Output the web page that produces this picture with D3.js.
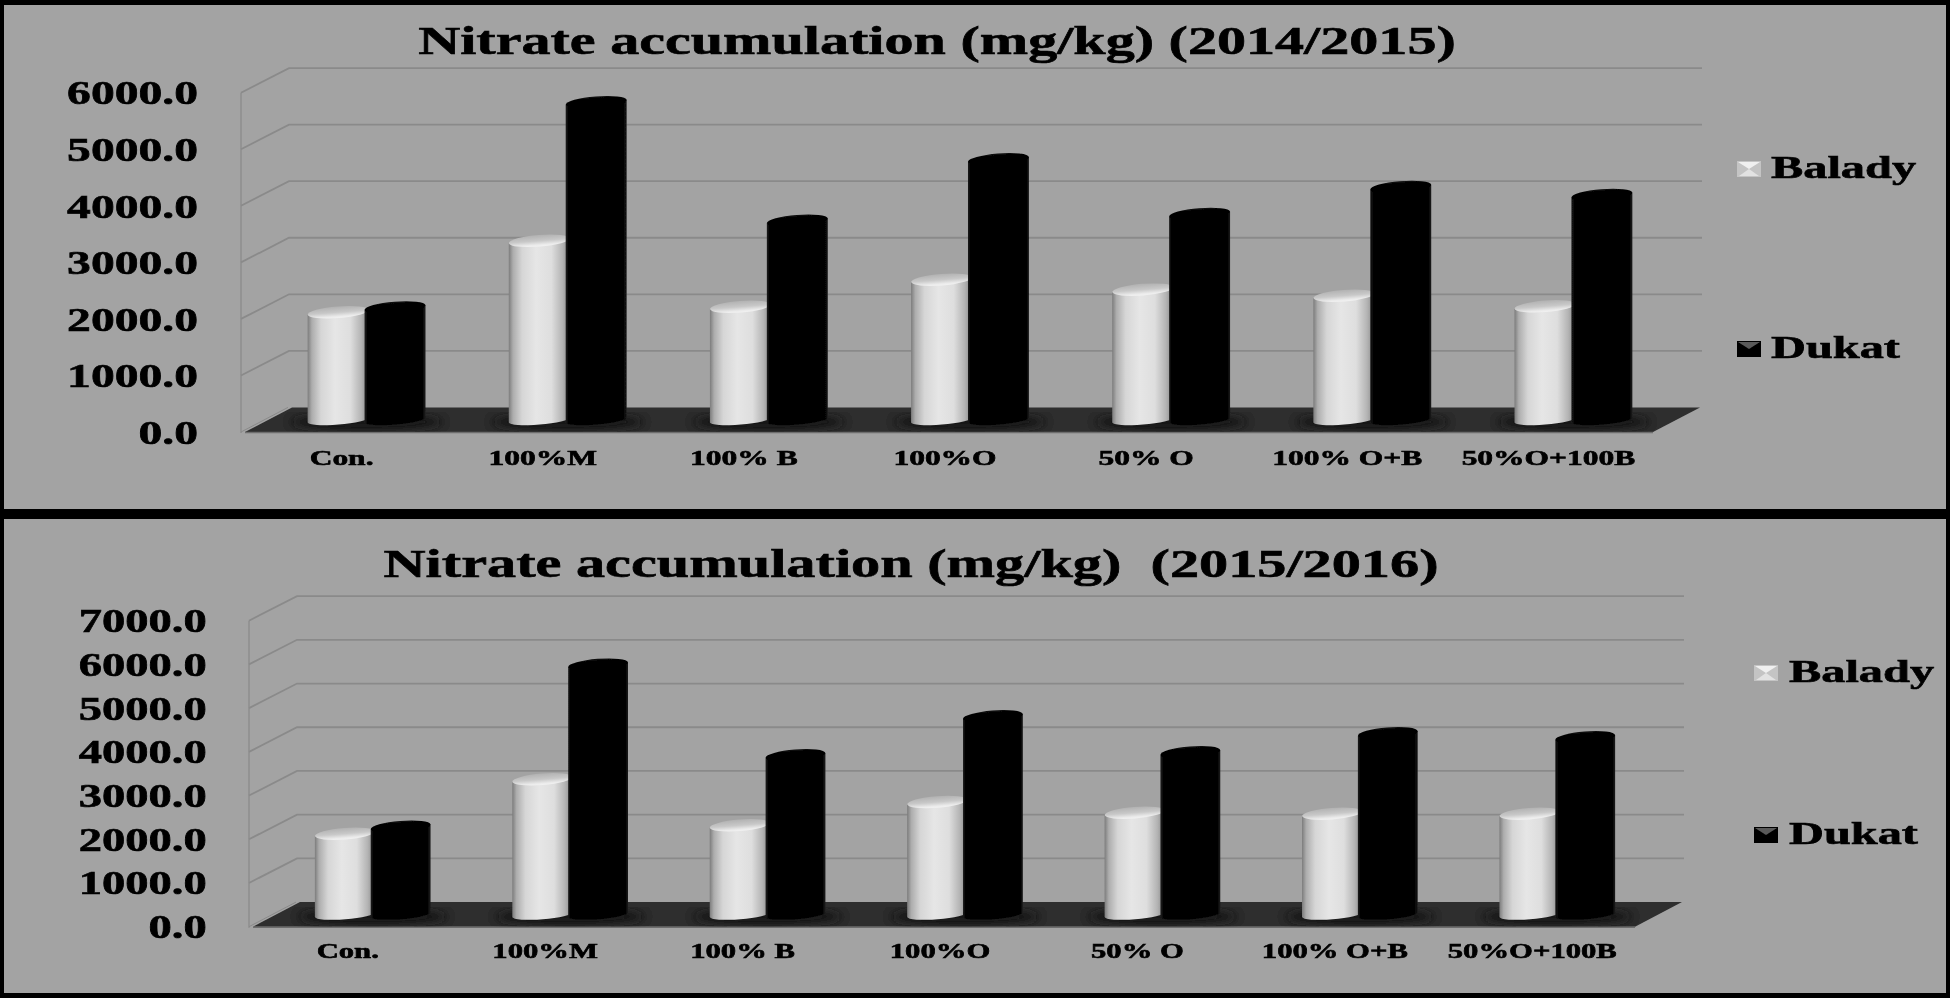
<!DOCTYPE html>
<html>
<head>
<meta charset="utf-8">
<title>Nitrate accumulation</title>
<script src="https://cdn.jsdelivr.net/npm/d3@7"></script>
<style>
    html, body { margin: 0; padding: 0; background: #000; overflow: hidden; }
    svg { display: block; }
    text { font-family: "Liberation Serif", serif; font-weight: bold; fill: #000; stroke: #000; stroke-width: 0.6px; white-space: pre; }
</style>
</head>
<body>
<svg id="chart" width="1950" height="998"></svg>
<script>
var categories = ["Con.", "100%M", "100% B", "100%O", "50% O", "100% O+B", "50%O+100B"];
var seriesNames = ["Balady", "Dukat"];

var balady1415 = [1905, 3170, 2003, 2481, 2305, 2198, 2010];
var dukat1415 = [1990, 5620, 3524, 4610, 3643, 4120, 3979];
var balady1516 = [1853, 3097, 2045, 2578, 2334, 2311, 2311];
var dukat1516 = [2013, 5720, 3646, 4538, 3715, 4150, 4058];

var ticks1415 = [0, 1000, 2000, 3000, 4000, 5000, 6000];
var ticks1516 = [0, 1000, 2000, 3000, 4000, 5000, 6000, 7000];

var title1415 = "Nitrate accumulation (mg/kg) (2014/2015)";
var title1516 = "Nitrate accumulation (mg/kg)  (2015/2016)";

var svg = d3.select("#chart");
var defs = svg.append("defs");

function addGradient(id, stops, vertical) {
    var grad = defs.append("linearGradient")
        .attr("id", id)
        .attr("x1", 0).attr("y1", 0)
        .attr("x2", vertical ? 0 : 1).attr("y2", vertical ? 1 : 0);
    stops.forEach(function(s) {
        grad.append("stop").attr("offset", s[0]).attr("stop-color", s[1]);
    });
}

addGradient("side-Balady", [[0, "#7c7c7c"], [0.07, "#adadad"], [0.22, "#d6d6d6"], [0.45, "#e6e6e6"], [0.7, "#dedede"], [0.88, "#b4b4b4"], [1, "#868686"]]);
addGradient("side-Dukat", [[0, "#1c1c1c"], [0.04, "#050505"], [0.5, "#000"], [0.96, "#050505"], [1, "#1c1c1c"]]);
addGradient("top-Balady", [[0, "#b2b2b2"], [0.5, "#c8c8c8"], [0.85, "#ebebeb"], [1, "#f2f2f2"]], true);
addGradient("top-Dukat", [[0, "#0c0c0c"], [0.3, "#000"], [1, "#000"]], true);

defs.append("filter").attr("id", "soft")
    .attr("x", 0).attr("y", 0).attr("width", 1).attr("height", 1)
    .attr("filterUnits", "userSpaceOnUse")
    .attr("width", 1950).attr("height", 998)
    .append("feGaussianBlur").attr("stdDeviation", 0.6);
defs.append("filter").attr("id", "shadow")
    .append("feGaussianBlur").attr("stdDeviation", 5);

var root = svg.append("g").attr("filter", "url(#soft)");

// one chart panel, p holds only the layout numbers
function drawPanel(p, balady, dukat, tickValues, titleText) {
    var values = { Balady: balady, Dukat: dukat };
    var g = root.append("g");

    g.append("rect")
        .attr("x", 4).attr("y", p.top)
        .attr("width", 1942).attr("height", p.bottom - p.top)
        .attr("fill", "#a3a3a3");

    var y = d3.scaleLinear()
        .domain([0, d3.max(tickValues)])
        .range([p.floorY, p.topY]);

    var x = d3.scaleBand()
        .domain(categories)
        .range([p.floorLeft, p.floorRight]);

    var depthX = 47, depthY = 24.6;

    // floor
    g.append("path")
        .attr("d", d3.line()([
            [p.floorLeft, y(0)],
            [p.floorLeft + depthX, y(0) - depthY],
            [p.floorRight + depthX, y(0) - depthY],
            [p.floorRight, y(0)]
        ]) + "Z")
        .attr("fill", "#2d2d2d");
    g.append("line")
        .attr("x1", p.floorLeft).attr("x2", p.floorRight)
        .attr("y1", y(0) + 0.5).attr("y2", y(0) + 0.5)
        .attr("stroke", "#6e6e6e").attr("stroke-width", 1.5);

    // left wall and gridlines
    g.append("line")
        .attr("x1", p.wallX).attr("x2", p.wallX)
        .attr("y1", y.range()[1]).attr("y2", y(0) + 1)
        .attr("stroke", "#8e8e8e").attr("stroke-width", 1.5);

    g.selectAll(".grid")
        .data(tickValues.filter(function(d) { return d > 0; }))
        .join("path")
        .attr("class", "grid")
        .attr("fill", "none")
        .attr("stroke", "#8a8a8a")
        .attr("stroke-width", 1.8)
        .attr("d", function(d) {
            return d3.line()([
                [p.wallX, y(d)],
                [p.wallX + depthX + 1, y(d) - depthY],
                [p.floorRight + depthX + 2, y(d) - depthY]
            ]);
        });
    g.append("line")
        .attr("x1", p.wallX).attr("x2", p.wallX + depthX)
        .attr("y1", y(0)).attr("y2", y(0) - depthY)
        .attr("stroke", "#8a8a8a").attr("stroke-width", 1);

    // the bars stand in the middle of the floor depth
    var shiftX = 21, shiftY = 12;
    var step = x.step();
    var barW = step * 0.303;
    var overlap = step * 0.01;
    var rx = barW / 2, ry = 5.8, baseRy = 4.6, tilt = 2.4, angle = -4.5;

    function centerX(cat, s) {
        var c = x(cat) + step / 2 + shiftX;
        return s === "Balady" ? c - barW / 2 + overlap : c + barW / 2 - overlap;
    }

    // dark patch on the floor round each pair
    g.selectAll(".shade")
        .data(categories)
        .join("ellipse")
        .attr("class", "shade")
        .attr("cx", function(d) { return x(d) + step / 2 + shiftX; })
        .attr("cy", y(0) - shiftY + 2)
        .attr("rx", barW * 1.25).attr("ry", 8)
        .attr("fill", "#161616")
        .attr("filter", "url(#shadow)");

    seriesNames.forEach(function(s) {
        var rows = categories.map(function(c, i) { return { cat: c, value: values[s][i] }; });
        var bars = g.append("g").selectAll("g").data(rows).join("g");

        bars.append("path")
            .attr("fill", "url(#side-" + s + ")")
            .attr("d", function(d) {
                var cx = centerX(d.cat, s);
                var yt = y(d.value) - shiftY, yb = y(0) - shiftY;
                return "M" + (cx - rx) + "," + (yt + tilt) +
                    "L" + (cx + rx) + "," + (yt - tilt) +
                    "L" + (cx + rx) + "," + (yb - tilt) +
                    "A" + rx + "," + baseRy + " " + angle + " 0 1 " + (cx - rx) + "," + (yb + tilt) + "Z";
            });

        bars.append("ellipse")
            .attr("fill", "url(#top-" + s + ")")
            .attr("rx", rx).attr("ry", ry)
            .attr("transform", function(d) {
                return "translate(" + centerX(d.cat, s) + "," + (y(d.value) - shiftY) + ") rotate(" + angle + ")";
            });
    });

    // axes, the source picture is stretched sideways so the labels are too
    var yAxis = g.append("g")
        .attr("transform", "translate(" + p.labelRight + ",0)")
        .call(d3.axisLeft(y).tickValues(tickValues).tickSize(0).tickPadding(0).tickFormat(d3.format(".1f")));
    yAxis.select(".domain").remove();
    yAxis.selectAll("text")
        .attr("font-size", p.tickFont)
        .attr("dy", "0.33em")
        .attr("transform", "scale(" + p.tickScale + ",1)");

    var xAxis = g.append("g")
        .attr("transform", "translate(-4," + y(0) + ")")
        .call(d3.axisBottom(x).tickSize(0).tickPadding(p.catPad));
    xAxis.select(".domain").remove();
    xAxis.selectAll("text")
        .attr("font-size", 21)
        .attr("transform", "scale(" + p.catScale + ",1)");

    // title
    g.append("text")
        .attr("font-size", 40)
        .attr("text-anchor", "middle")
        .attr("transform", "translate(" + p.titleX + "," + p.titleY + ") scale(" + p.titleScale + ",1)")
        .text(titleText);

    // legend
    var legend = g.selectAll(".legend")
        .data(seriesNames)
        .join("g")
        .attr("class", "legend")
        .attr("transform", function(d, i) {
            return "translate(" + p.legendX + "," + p.legendY[i] + ")";
        });

    legend.append("rect")
        .attr("x", 0).attr("y", -17)
        .attr("width", 24).attr("height", 16)
        .attr("fill", function(d) { return d === "Balady" ? "#c4c4c4" : "#000"; });
    legend.append("path")
        .attr("fill", function(d) { return d === "Balady" ? "#f0f0f0" : "#5a5a5a"; })
        .attr("d", "M1,-16H23L12,-9Z");
    legend.append("path")
        .filter(function(d) { return d === "Balady"; })
        .attr("fill", "#e2e2e2")
        .attr("d", "M2,-2L12,-9L22,-2Z");
    legend.append("text")
        .attr("x", 0)
        .attr("font-size", 31)
        .attr("transform", "translate(" + p.legendTextX + ",0) scale(1.56,1)")
        .text(function(d) { return d; });
}

drawPanel({
    top: 5, bottom: 509,
    floorY: 432, topY: 92.7,
    floorLeft: 245, floorRight: 1653, wallX: 241,
    labelRight: 198, tickFont: 34, tickScale: 1.4,
    catPad: 18, catScale: 1.5,
    titleX: 937, titleY: 54, titleScale: 1.453,
    legendX: 1737, legendY: [178, 358], legendTextX: 34
}, balady1415, dukat1415, ticks1415, title1415);

drawPanel({
    top: 519, bottom: 993,
    floorY: 926.7, topY: 620.7,
    floorLeft: 253, floorRight: 1635, wallX: 249,
    labelRight: 206.7, tickFont: 33, tickScale: 1.41,
    catPad: 16, catScale: 1.46,
    titleX: 911, titleY: 577, titleScale: 1.457,
    legendX: 1754, legendY: [682, 844], legendTextX: 35
}, balady1516, dukat1516, ticks1516, title1516);
</script>
</body>
</html>
